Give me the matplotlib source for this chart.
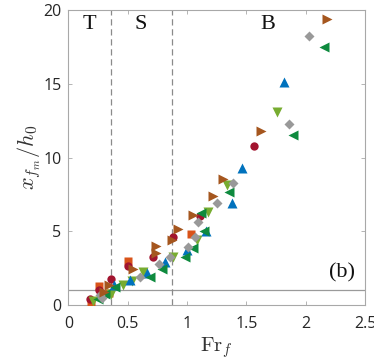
import matplotlib
matplotlib.use("Agg")
import matplotlib.pyplot as plt

plt.rcParams['mathtext.fontset'] = 'cm'

# Data (Fr_f, x_fm/h0) per series
brown_x = [0.30, 0.34, 0.54, 0.74, 0.74, 0.877, 0.925, 1.05, 1.22, 1.30, 1.62, 2.18]
brown_y = [0.90, 1.36, 2.44, 3.50, 3.98, 4.43, 5.14, 6.10, 7.37, 8.52, 11.8, 19.37]

gray_x = [0.265, 0.28, 0.60, 0.765, 0.86, 1.01, 1.065, 1.09, 1.25, 1.39, 1.86, 2.03]
gray_y = [0.68, 0.45, 1.86, 2.78, 3.23, 3.91, 4.59, 5.65, 6.90, 8.25, 12.3, 18.26]

dgreen_x = [0.25, 0.31, 0.39, 0.69, 0.785, 0.985, 1.05, 1.14, 1.115, 1.35, 1.89, 2.15]
dgreen_y = [0.40, 0.75, 1.20, 1.88, 2.45, 3.28, 3.86, 5.02, 6.23, 7.68, 11.5, 17.5]

blue_x = [0.38, 0.52, 0.66, 0.81, 1.00, 1.16, 1.38, 1.46, 1.82]
blue_y = [1.36, 1.67, 2.19, 2.94, 3.73, 5.02, 6.94, 9.27, 15.1]

lgreen_x = [0.21, 0.355, 0.46, 0.535, 0.625, 0.88, 1.08, 1.18, 1.34, 1.76]
lgreen_y = [0.29, 0.72, 1.32, 1.62, 2.26, 3.28, 4.40, 6.33, 8.14, 13.1]

red_x = [0.18, 0.257, 0.355, 0.50, 0.71, 0.88, 1.11, 1.56]
red_y = [0.39, 1.02, 1.74, 2.65, 3.28, 4.61, 6.00, 10.8]

orange_x = [0.19, 0.257, 0.34, 0.50, 1.03]
orange_y = [0.16, 1.26, 0.83, 2.98, 4.84]

regime_bounds = [0.355, 0.874]
regime_labels = ['T', 'S', 'B']
regime_label_x = [0.18, 0.61, 1.68]

x_ticks = [0, 0.5, 1, 1.5, 2, 2.5]
x_ticklabels = ['0', '0.5', '1', '1.5', '2', '2.5']
y_ticks = [0, 5, 10, 15, 20]

fig = plt.figure(figsize=(3.74, 3.60), dpi=100)
ax = fig.add_axes([0.183, 0.153, 0.793, 0.819])

ax.axhline(1, color='#9a9a9a', lw=0.9, zorder=1)
for xb in regime_bounds:
    ax.axvline(xb, color='#8a8a8a', lw=0.9, ls=(0, (5, 3)), zorder=1)

ms = 6
ax.plot(orange_x, orange_y, 's', color='#D95319', ms=ms, mec='none', zorder=3)
ax.plot(red_x, red_y, 'o', color='#A2142F', ms=ms, mec='none', zorder=3)
ax.plot(lgreen_x, lgreen_y, 'v', color='#77AC30', ms=ms + 1, mec='none', zorder=3)
ax.plot(blue_x, blue_y, '^', color='#0072BD', ms=ms + 1, mec='none', zorder=3)
ax.plot(dgreen_x, dgreen_y, '<', color='#0E8A3E', ms=ms + 1, mec='none', zorder=3)
ax.plot(gray_x, gray_y, 'D', color='#999999', ms=ms - 1, mec='none', zorder=3)
ax.plot(brown_x, brown_y, '>', color='#A5561E', ms=ms + 1, mec='none', zorder=3)

for lab, lx in zip(regime_labels, regime_label_x):
    ax.text(lx, 19.0, lab, ha='center', va='center', fontsize=16,
            family='Liberation Serif', color='#111111')
ax.text(2.31, 2.17, '(b)', ha='center', va='center', fontsize=16,
        family='Liberation Serif', color='#111111')

ax.set_xlim(0, 2.5)
ax.set_ylim(0, 20)
ax.set_xticks(x_ticks)
ax.set_xticklabels(x_ticklabels)
ax.set_yticks(y_ticks)

for sp in ax.spines.values():
    sp.set_color('#a8a8a8')
    sp.set_linewidth(0.8)
ax.tick_params(direction='in', top=True, right=True, length=3, width=0.6,
               color='#a8a8a8', labelcolor='#262626', labelsize=11.5)
ax.tick_params(axis='x', pad=8)
ax.tick_params(axis='y', pad=5)
for lbl in ax.get_xticklabels() + ax.get_yticklabels():
    lbl.set_family('Open Sans')

ax.set_xlabel(r'$\mathrm{Fr}_f$', fontsize=15, color='#333333', labelpad=2)
ax.set_ylabel(r'$x_{f_m}/h_0$', fontsize=16, color='#333333', labelpad=0)

fig.savefig('out.png', dpi=100)
